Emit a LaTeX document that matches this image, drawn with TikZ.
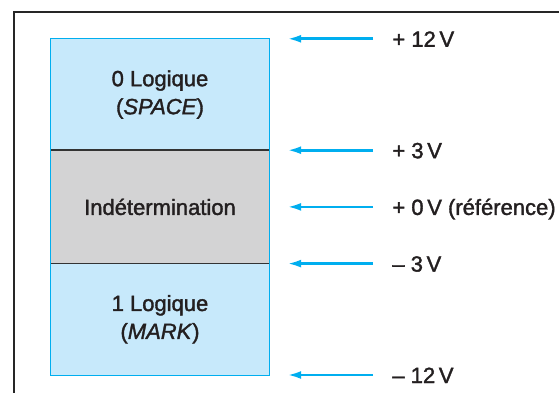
\documentclass[tikz,border=0pt]{standalone}
\usepackage{fontspec}
\setmainfont{Liberation Sans}[RawFeature={embolden=1.6}]
\usetikzlibrary{arrows.meta, positioning}
\definecolor{levelcyan}{RGB}{0,174,239}
\definecolor{zoneblue}{RGB}{199,233,251}
\definecolor{zonegray}{RGB}{211,211,212}
\definecolor{inkgray}{RGB}{35,31,32}
\tikzset{
  zone/.style={minimum width=218pt, inner sep=0pt, align=center, text=inkgray},
  logic/.style={zone, fill=zoneblue, minimum height=111pt},
  undef/.style={zone, fill=zonegray, minimum height=113pt},
  volt/.style={anchor=west, inner sep=0pt, text=inkgray, text height=16pt, text depth=0pt},
  level/.style={-{Latex[length=14pt, width=8pt]}, line width=2.6pt, levelcyan, shorten <=19pt, shorten >=18pt},
  divider/.style={line width=1.5pt, black!80},
}

\begin{document}
\begin{tikzpicture}[x=1pt, y=-1pt, font=\fontsize{22}{28}\selectfont]
  \useasboundingbox (0,0) rectangle (559,393);
  \draw[line width=2pt, black!85] (14,400) |- (570,12);

  \node[logic] (space) at (160,94.5) {0 Logique\\(\textit{SPACE})};
  \node[undef, below=0pt of space] (indet) {Indétermination};
  \node[logic, below=0pt of indet] (mark) {1 Logique\\(\textit{MARK})};

  \draw[divider] (space.south west) -- (space.south east);
  \draw[divider] (indet.south west) -- (indet.south east);
  \draw[levelcyan, line width=1pt] (space.north west) rectangle (mark.south east);

  \node[volt, right=123pt of space.north east] (v12) {+ 12\,V};
  \node[volt, right=123pt of space.south east] (v3) {+ 3\,V};
  \node[volt, right=123pt of indet.east] (v0) {+ 0\,V (référence)};
  \node[volt, right=123pt of indet.south east] (vm3) {-- 3\,V};
  \node[volt, right=123pt of mark.south east] (vm12) {-- 12\,V};

  \draw[level] (v12.west) -- (space.north east);
  \draw[level] (v3.west) -- (space.south east);
  \draw[level] (v0.west) -- (indet.east);
  \draw[level] (vm3.west) -- (indet.south east);
  \draw[level] (vm12.west) -- (mark.south east);
\end{tikzpicture}
\end{document}
